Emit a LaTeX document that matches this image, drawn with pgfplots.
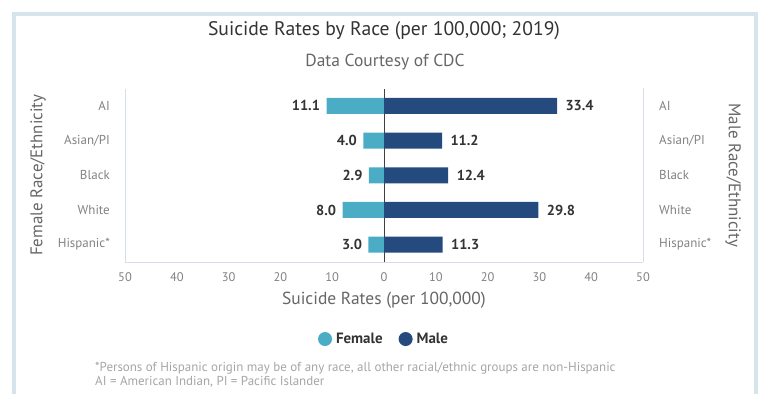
\documentclass[border=0pt]{standalone}
\usepackage{pgfplots}
\pgfplotsset{compat=1.18}
\usepackage{fontspec}
\setmainfont{PT Sans}
\definecolor{fem}{RGB}{75,172,198}
\definecolor{mal}{RGB}{36,74,126}
\definecolor{framec}{RGB}{214,229,236}
\definecolor{axc}{RGB}{214,222,236}
\definecolor{tit}{RGB}{51,51,51}
\definecolor{sub}{RGB}{102,102,102}
\definecolor{tck}{RGB}{130,130,130}
\definecolor{foot}{RGB}{165,165,165}
\begin{document}
\begin{tikzpicture}[x=1bp,y=1bp]
\path[use as bounding box] (0,0) rectangle (762,393);
\draw[framec, line width=4bp] (14,-10) -- (14,379) -- (755.5,379) -- (755.5,-10);
\begin{axis}[
 at={(125bp,131bp)}, anchor=south west,
 scale only axis, width=518bp, height=173.5bp,
 xmin=-50, xmax=50, ymin=0.5, ymax=5.5,
 axis x line*=bottom, axis y line*=left,
 axis line style={draw=axc, -, line width=0.8bp},
 major tick length=0pt,
 xbar, bar width=16bp,
 ytick={1,...,5}, yticklabels={Hispanic*,White,Black,Asian/PI,AI},
 xtick={-50,-40,...,50},
 xticklabel={\pgfmathparse{abs(\tick)}\pgfmathprintnumber[fixed,precision=0]{\pgfmathresult}},
 /pgf/number format/assume math mode=true,
 xticklabel style={font=\fontsize{12.5}{14}\selectfont, text=tck, anchor=center, yshift=-15bp},
 yticklabel style={font=\fontsize{13}{14}\selectfont, text=tck, anchor=east, inner sep=0pt, xshift=-15bp},
 xlabel={Suicide Rates (per 100,000)},
 xlabel style={font=\fontsize{17.5}{19}\selectfont, text=sub, at={(axis description cs:0.5,0)}, anchor=center, yshift=-38bp},
 ylabel={Female Race/Ethnicity},
 ylabel style={font=\fontsize{17}{19}\selectfont, text=sub, at={(axis description cs:-0.168,0.5)}, anchor=center},
 extra x ticks={0}, extra x tick labels={},
 extra x tick style={grid=major, major grid style={draw=black!75, line width=0.9bp}},
 nodes near coords={\pgfplotspointmeta},
 point meta=explicit symbolic,
 nodes near coords style={font=\bfseries\fontsize{14.5}{16}\selectfont, text=tit},
 legend style={at={(axis description cs:0.5,-0.444)}, anchor=center, draw=none, legend columns=2,
   font=\bfseries\fontsize{15}{17}\selectfont, text=tit,
   /tikz/every even column/.append style={column sep=14bp}},
]
\addplot[fill=fem, draw=none, bar shift=0pt,
  every node near coord/.append style={anchor=east, xshift=-3bp},
  legend image code/.code={\path (-7bp,0bp) -- (9bp,0bp); \fill[fem] (0bp,0bp) circle (7bp);}]
 coordinates {(-11.1,5) [11.1] (-4.0,4) [4.0] (-2.9,3) [2.9] (-8.0,2) [8.0] (-3.0,1) [3.0]};
\addlegendentry{Female}
\addplot[fill=mal, draw=none, bar shift=0pt,
  every node near coord/.append style={anchor=west, xshift=5bp},
  legend image code/.code={\path (-7bp,0bp) -- (9bp,0bp); \fill[mal] (0bp,0bp) circle (7bp);}]
 coordinates {(33.4,5) [33.4] (11.2,4) [11.2] (12.4,3) [12.4] (29.8,2) [29.8] (11.3,1) [11.3]};
\addlegendentry{Male}
\end{axis}
\begin{axis}[
 at={(125bp,131bp)}, anchor=south west,
 scale only axis, width=518bp, height=173.5bp,
 xmin=-50, xmax=50, ymin=0.5, ymax=5.5,
 axis x line=none, axis y line*=right,
 axis line style={draw=axc, -, line width=0.8bp},
 major tick length=0pt,
 ytick={1,...,5}, yticklabels={Hispanic*,White,Black,Asian/PI,AI},
 yticklabel pos=right,
 yticklabel style={font=\fontsize{13}{14}\selectfont, text=tck, anchor=west, inner sep=0pt, xshift=16bp},
 ylabel={Male Race/Ethnicity},
 ylabel style={font=\fontsize{17}{19}\selectfont, text=sub, at={(axis description cs:1.174,0.5)}, anchor=center, rotate=180},
]
\end{axis}
\node[font=\fontsize{19.7}{22}\selectfont, text=tit] at (384,362) {Suicide Rates by Race (per 100,000; 2019)};
\node[font=\fontsize{17.5}{19}\selectfont, text=sub] at (385,331) {Data Courtesy of CDC};
\node[font=\fontsize{13}{14}\selectfont, text=foot, anchor=west, inner sep=0pt] at (95,25) {*Persons of Hispanic origin may be of any race, all other racial/ethnic groups are non-Hispanic};
\node[font=\fontsize{13}{14}\selectfont, text=foot, anchor=west, inner sep=0pt] at (95,11) {AI = American Indian, PI = Pacific Islander};
\end{tikzpicture}
\end{document}
